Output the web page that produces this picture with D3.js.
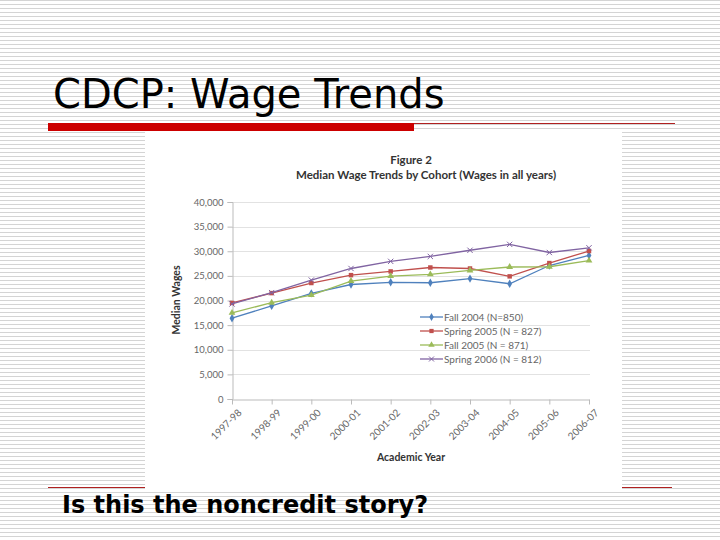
<!DOCTYPE html>
<html>
<head>
<meta charset="utf-8">
<script src="https://cdn.jsdelivr.net/npm/d3@7"></script>
<style>
  html, body { margin: 0; padding: 0; background: #fff; }
  svg { display: block; }
</style>
</head>
<body>
<svg id="chart" width="720" height="540"></svg>
<script>
const categories = ["1997-98","1998-99","1999-00","2000-01","2001-02","2002-03","2003-04","2004-05","2005-06","2006-07"];
const seriesNames = ["Fall 2004 (N=850)","Spring 2005 (N = 827)","Fall 2005 (N = 871)","Spring 2006 (N = 812)"];
const fall2004   = [16400, 18900, 21450, 23250, 23700, 23600, 24450, 23400, 27100, 29150];
const spring2005 = [19500, 21500, 23550, 25150, 25900, 26700, 26500, 24900, 27600, 30050];
const fall2005   = [17500, 19550, 21100, 23950, 24950, 25300, 26100, 26800, 26850, 28100];
const spring2006 = [19300, 21600, 24150, 26500, 27950, 28950, 30200, 31400, 29750, 30700];
const yTicks = [0, 5000, 10000, 15000, 20000, 25000, 30000, 35000, 40000];
const colors = ["#4F81BD", "#C0504D", "#9BBB59", "#8064A2"];
const markers = ["diamond", "square", "triangle", "cross"];

const svg = d3.select("#chart");

// striped slide background
const defs = svg.append("defs");
const pat = defs.append("pattern").attr("id","stripes").attr("patternUnits","userSpaceOnUse")
  .attr("width", 8).attr("height", 4);
pat.append("rect").attr("width", 8).attr("height", 4).attr("fill", "#ffffff");
pat.append("rect").attr("y", 0).attr("width", 8).attr("height", 1).attr("fill", "#d4d4d4");
svg.append("rect").attr("width", 720).attr("height", 540).attr("fill", "url(#stripes)");

// slide title
svg.append("text").attr("x", 53).attr("y", 108)
  .style("font-family", "'DejaVu Sans', sans-serif").style("font-size", "40px").attr("fill", "#000")
  .text("CDCP: Wage Trends");

// red rule under title
svg.append("rect").attr("x", 48).attr("y", 123).attr("width", 366).attr("height", 8).attr("fill", "#CC0000");
svg.append("line").attr("x1", 414).attr("x2", 675).attr("y1", 123.5).attr("y2", 123.5)
  .attr("stroke", "#b02020").attr("stroke-width", 1);

// bottom red rules
svg.append("line").attr("x1", 48).attr("x2", 672).attr("y1", 487.5).attr("y2", 487.5)
  .attr("stroke", "#b02020").attr("stroke-width", 1);

// white chart image box
svg.append("rect").attr("x", 145).attr("y", 131).attr("width", 477).attr("height", 358).attr("fill", "#fff");

// chart titles
const chartFont = "Lato, 'Open Sans', sans-serif";
svg.append("text").attr("x", 411).attr("y", 164).attr("text-anchor", "middle")
  .style("font-family", chartFont).style("font-weight", "bold").style("font-size", "11.5px").attr("fill", "#333")
  .text("Figure 2");
svg.append("text").attr("x", 426).attr("y", 179).attr("text-anchor", "middle")
  .style("font-family", chartFont).style("font-weight", "bold").style("font-size", "11.5px").attr("fill", "#333")
  .text("Median Wage Trends by Cohort (Wages in all years)");

// scales
const x = d3.scalePoint().domain(categories).range([232, 589]);
const y = d3.scaleLinear().domain([0, 40000]).range([399, 202]);

// gridlines
svg.append("g").selectAll("line").data(yTicks.filter(d => d > 0)).join("line")
  .attr("x1", 232).attr("x2", 590)
  .attr("y1", d => Math.round(y(d)) + 0.5).attr("y2", d => Math.round(y(d)) + 0.5)
  .attr("stroke", "#e2e2e2").attr("stroke-width", 1);

// y axis
const yAxis = svg.append("g").attr("transform", "translate(232.5,0)")
  .call(d3.axisLeft(y).tickValues(yTicks).tickFormat(d3.format(",")).tickSize(5).tickPadding(4));
yAxis.select(".domain").attr("stroke", "#bbb");
yAxis.selectAll(".tick line").attr("stroke", "#bbb");
yAxis.selectAll("text").style("font-family", chartFont).style("font-size", "9.5px").attr("fill", "#666");

// x axis
const xAxis = svg.append("g").attr("transform", "translate(0,399.5)")
  .call(d3.axisBottom(x).tickSize(5).tickPadding(3).tickSizeOuter(0));
xAxis.select(".domain").attr("stroke", "#bbb");
xAxis.selectAll(".tick line").attr("stroke", "#bbb");
xAxis.selectAll("text")
  .style("font-family", chartFont).style("font-size", "10px").attr("fill", "#666")
  .attr("text-anchor", "end").attr("dy", "0.3em")
  .attr("transform", "translate(2,6) rotate(-45)");

// axis titles
svg.append("text").attr("transform", "translate(180,300) rotate(-90)").attr("text-anchor", "middle")
  .style("font-family", chartFont).style("font-weight", "bold").style("font-size", "10.5px").attr("fill", "#333")
  .text("Median Wages");
svg.append("text").attr("x", 411).attr("y", 461).attr("text-anchor", "middle")
  .style("font-family", chartFont).style("font-weight", "bold").style("font-size", "10.5px").attr("fill", "#333")
  .text("Academic Year");

// markers
function drawMarker(g, type, color, size) {
  if (type === "diamond") {
    g.append("path").attr("d", d3.symbol(d3.symbolDiamond, size)()).attr("fill", color);
  } else if (type === "square") {
    g.append("path").attr("d", d3.symbol(d3.symbolSquare, size)()).attr("fill", color);
  } else if (type === "triangle") {
    g.append("path").attr("d", d3.symbol(d3.symbolTriangle, size)()).attr("fill", color);
  } else {
    g.append("path").attr("d", d3.symbol(d3.symbolTimes, size)()).attr("fill", "none").attr("stroke", color).attr("stroke-width", 1);
  }
}

const allSeries = [fall2004, spring2005, fall2005, spring2006];
const line = d3.line().x((d, i) => x(categories[i])).y(d => y(d));
allSeries.forEach((vals, si) => {
  const g = svg.append("g");
  g.append("path").datum(vals).attr("d", line).attr("fill", "none")
    .attr("stroke", colors[si]).attr("stroke-width", 1.3);
  vals.forEach((v, i) => {
    const mg = g.append("g").attr("transform", `translate(${x(categories[i])},${y(v)})`);
    drawMarker(mg, markers[si], colors[si], 20);
  });
});

// legend
const legend = svg.append("g");
seriesNames.forEach((name, i) => {
  const ly = 317 + i * 14;
  legend.append("line").attr("x1", 420).attr("x2", 443).attr("y1", ly).attr("y2", ly)
    .attr("stroke", colors[i]).attr("stroke-width", 1.3);
  const mg = legend.append("g").attr("transform", `translate(431.5,${ly})`);
  drawMarker(mg, markers[i], colors[i], 18);
  legend.append("text").attr("x", 444).attr("y", ly).attr("dy", "0.35em")
    .style("font-family", chartFont).style("font-size", "10px").attr("fill", "#666")
    .text(name);
});

// bottom text
svg.append("text").attr("x", 62).attr("y", 513)
  .style("font-family", "'DejaVu Sans', sans-serif").style("font-weight", "bold").style("font-size", "24px").attr("fill", "#000")
  .text("Is this the noncredit story?");
</script>
</body>
</html>
